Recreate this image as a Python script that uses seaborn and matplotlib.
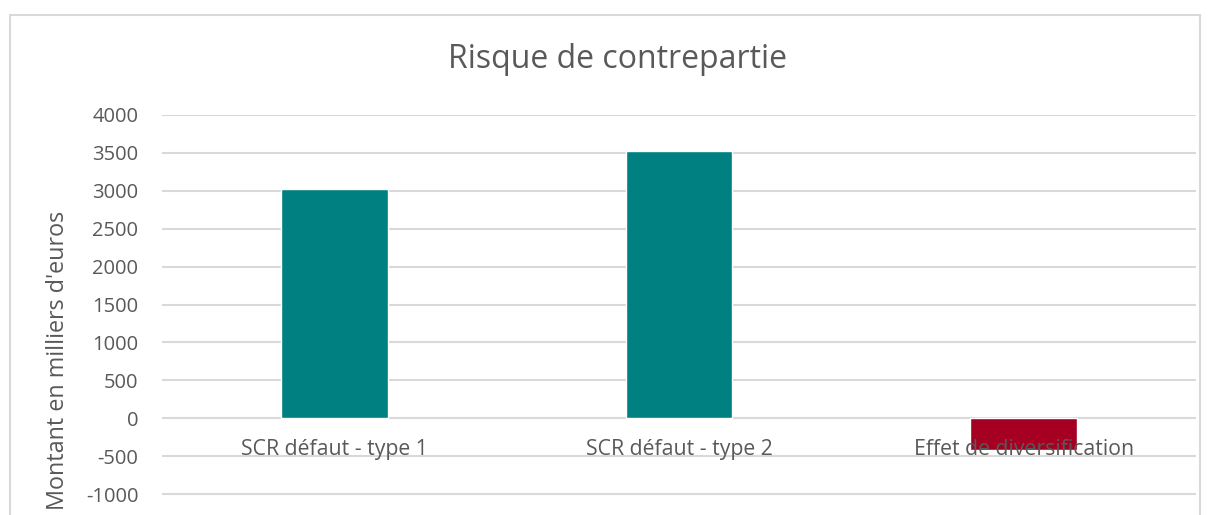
import matplotlib
matplotlib.use("Agg")
import matplotlib.pyplot as plt
import matplotlib.patches as mpatches
import seaborn as sns
import pandas as pd

# Data
categories = ["SCR défaut - type 1", "SCR défaut - type 2", "Effet de diversification"]
values = [3030, 3530, -420]
colors = ["#008080", "#008080", "#A50021"]
yticks = [-1000, -500, 0, 500, 1000, 1500, 2000, 2500, 3000, 3500, 4000]

data = pd.DataFrame({"Poste": categories, "Montant": values})

sns.set_style("white")
plt.rcParams["font.family"] = ["Open Sans", "DejaVu Sans"]
text_color = "#595959"
grid_color = "#d9d9d9"

fig = plt.figure(figsize=(12.13, 5.15), dpi=100)
ax = fig.add_axes([162 / 1213, 0, (1196 - 162) / 1213, 1 - 115 / 515])

sns.barplot(x="Poste", y="Montant", data=data, hue="Poste", palette=colors,
            width=0.31, legend=False, ax=ax, saturation=1)

ax.set_ylim(-1277, 4000)
ax.set_xlim(-0.5, 2.5)
ax.set_yticks(yticks)
ax.set_yticklabels([str(t) for t in yticks], fontsize=14.5, color=text_color)
ax.tick_params(axis="y", length=0, pad=17)
for t in yticks:
    ax.axhline(t, color=grid_color, lw=1.5, zorder=0)

# category labels sit just below the zero line, drawn over the bars
ax.set_axisbelow(False)
ax.spines["bottom"].set_position(("data", 0))
ax.tick_params(axis="x", length=0, pad=15, labelsize=15.3, labelcolor=text_color)
for s in ["top", "right", "left", "bottom"]:
    ax.spines[s].set_visible(False)
ax.set_xlabel("")
ax.set_ylabel("")

fig.text(58 / 1213, 1 - 360 / 515, "Montant en milliers d'euros", rotation=90,
         ha="center", va="center", fontsize=16.8, color=text_color)
fig.text(617 / 1213, 1 - 59 / 515, "Risque de contrepartie", ha="center",
         va="center", fontsize=23, color=text_color)

# chart frame
frame = mpatches.Rectangle((10 / 1213, -0.1), (1200 - 10) / 1213, 1.1 - 15 / 515,
                           transform=fig.transFigure, fill=False,
                           edgecolor=grid_color, lw=1.5)
fig.patches.append(frame)

fig.savefig("out.png", dpi=100)
